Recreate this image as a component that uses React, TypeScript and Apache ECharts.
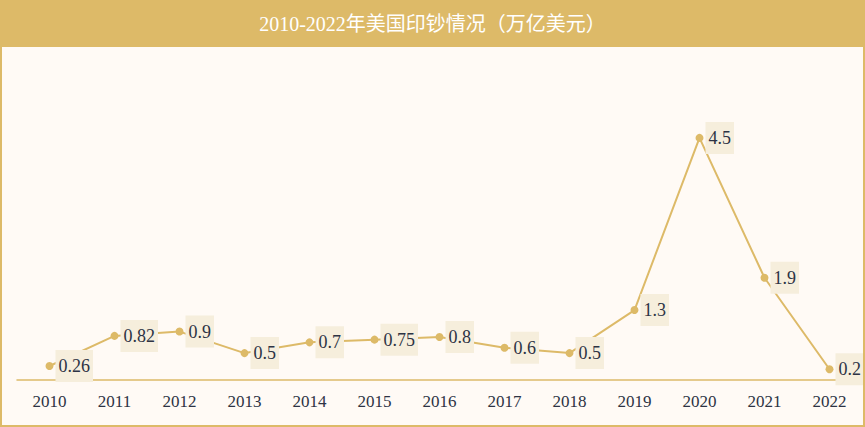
import React, { useEffect, useRef } from "react";
import * as echarts from "echarts";

const years = ["2010", "2011", "2012", "2013", "2014", "2015", "2016", "2017", "2018", "2019", "2020", "2021", "2022"];
const printed = [0.26, 0.82, 0.9, 0.5, 0.7, 0.75, 0.8, 0.6, 0.5, 1.3, 4.5, 1.9, 0.2];
const titleText = "2010-2022年美国印钞情况（万亿美元）";

const GOLD = "#DDBA68";
const SERIF = "'Liberation Serif', 'DejaVu Serif', 'Noto Sans CJK SC', serif";

export default function App() {
  const ref = useRef<HTMLDivElement>(null);
  useEffect(() => {
    document.body.style.margin = "0";
    const chart = echarts.init(ref.current!, null, { renderer: "svg" });
    chart.setOption({
      animation: false,
      backgroundColor: "#FFFAF5",
      graphic: [
        {
          type: "rect",
          shape: { x: 1, y: 1, width: 863, height: 425 },
          style: { fill: "none", stroke: GOLD, lineWidth: 2 },
          z: 10,
        },
        {
          type: "rect",
          shape: { x: 0, y: 0, width: 865, height: 47 },
          style: { fill: GOLD },
          z: 9,
        },
        {
          type: "text",
          x: 432.5,
          y: 24,
          style: {
            text: titleText,
            fill: "#FFFFFF",
            font: "20px " + SERIF,
            align: "center",
            verticalAlign: "middle",
          },
          z: 11,
        },
      ],
      grid: { left: 17, right: 3, top: 111, bottom: 47 },
      xAxis: {
        type: "category",
        data: years,
        boundaryGap: true,
        axisLine: { lineStyle: { color: GOLD, width: 1.5 } },
        axisTick: { show: false },
        axisLabel: { color: "#2D3344", fontSize: 17, fontFamily: SERIF, margin: 13 },
      },
      yAxis: {
        type: "value",
        min: 0,
        max: 5,
        show: false,
        splitLine: { show: false },
      },
      series: [
        {
          type: "line",
          data: printed,
          symbol: "circle",
          symbolSize: 8,
          itemStyle: { color: GOLD },
          lineStyle: { color: GOLD, width: 2 },
          label: {
            show: true,
            position: "right",
            distance: 2,
            color: "#2D3344",
            fontSize: 18,
            fontFamily: SERIF,
            backgroundColor: "#F6EEDC",
            padding: [7, 3],
          },
        },
      ],
    });
    return () => chart.dispose();
  }, []);
  return <div ref={ref} style={{ width: 865, height: 427 }} />;
}
